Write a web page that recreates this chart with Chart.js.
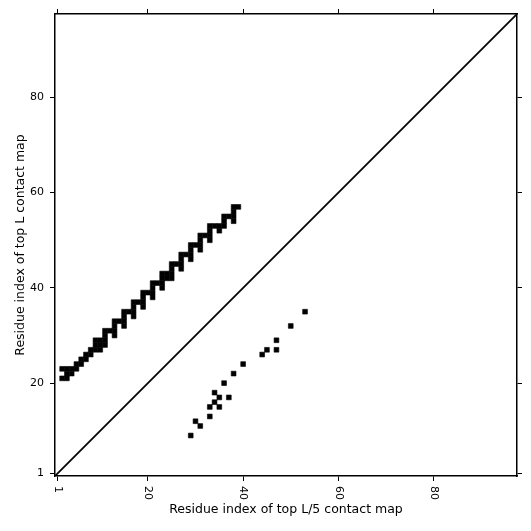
<!DOCTYPE html>
<html>
<head>
<meta charset="utf-8">
<script src="https://cdn.jsdelivr.net/npm/chart.js@4.4.0/dist/chart.umd.min.js"></script>
<style>
  html, body { margin: 0; padding: 0; background: #fff; }
  #wrap { width: 531px; height: 531px; }
</style>
</head>
<body>
<div id="wrap"><canvas id="contactMap" width="531" height="531"></canvas></div>
<script>
const seqLength = 97;
const tickValues = [1, 20, 40, 60, 80];
const xTitle = 'Residue index of top L/5 contact map';
const yTitle = 'Residue index of top L contact map';

// [i, j] residue pairs
const topLContacts = [
    [2, 21], [3, 21],
    [3, 22], [4, 22],
    [2, 23], [3, 23], [4, 23], [5, 23],
    [5, 24], [6, 24],
    [6, 25], [7, 25],
    [7, 26], [8, 26],
    [8, 27], [9, 27], [10, 27],
    [9, 28], [10, 28], [11, 28],
    [9, 29], [10, 29], [11, 29],
    [11, 30], [13, 30],
    [11, 31], [12, 31], [13, 31],
    [13, 32], [15, 32],
    [13, 33], [14, 33], [15, 33],
    [15, 34], [17, 34],
    [15, 35], [16, 35], [17, 35],
    [17, 36], [19, 36],
    [17, 37], [18, 37], [19, 37],
    [19, 38], [21, 38],
    [19, 39], [20, 39], [21, 39],
    [21, 40], [23, 40],
    [21, 41], [22, 41], [23, 41],
    [23, 42], [24, 42], [25, 42],
    [23, 43], [24, 43], [25, 43],
    [25, 44], [27, 44],
    [25, 45], [26, 45], [27, 45],
    [27, 46], [29, 46],
    [27, 47], [28, 47], [29, 47],
    [29, 48], [31, 48],
    [29, 49], [30, 49], [31, 49],
    [31, 50], [33, 50],
    [31, 51], [32, 51], [33, 51],
    [33, 52], [35, 52],
    [33, 53], [34, 53], [35, 53], [36, 53],
    [36, 54], [38, 54],
    [36, 55], [37, 55], [38, 55],
    [38, 56],
    [38, 57], [39, 57]
];
const topL5Contacts = [
    [29, 9], [31, 11], [30, 12], [33, 13], [33, 15], [35, 15], [34, 16],
    [35, 17], [37, 17], [34, 18], [36, 20], [38, 22], [40, 24], [44, 26],
    [45, 27], [47, 27], [47, 29], [50, 32], [53, 35]
];
const diagonal = [[0.5, 0.5], [seqLength + 0.5, seqLength + 0.5]];

const TICK_FONT = { family: '"DejaVu Sans", sans-serif', size: 11 };
const TITLE_FONT = { family: '"DejaVu Sans", sans-serif', size: 12.5 };
const toXY = (pairs) => pairs.map(([i, j]) => ({ x: i, y: j }));

// one cell of the map is a square as wide as one residue on the x scale
const cellRadius = function (ctx) {
    let s = ctx.chart.scales.x;
    return Math.abs(s.getPixelForValue(1) - s.getPixelForValue(0)) / Math.SQRT2;
};
const setTicks = function (scale) {
    scale.ticks = tickValues.map(v => ({ value: v }));
};
const frame = { display: true, color: '#000', width: 1.5 };
const tickMarks = { display: true, drawOnChartArea: false, drawTicks: true, tickLength: 5, color: '#000', lineWidth: 1 };

// x tick labels turned a quarter clockwise, like the original
const xLabels = {
    id: 'xLabels',
    afterDraw(chart) {
        const s = chart.scales.x;
        const c = chart.ctx;
        c.save();
        c.font = '11px "DejaVu Sans", sans-serif';
        c.fillStyle = '#000';
        c.textAlign = 'left';
        c.textBaseline = 'middle';
        tickValues.forEach(v => {
            c.save();
            c.translate(s.getPixelForValue(v), chart.chartArea.bottom + 10);
            c.rotate(Math.PI / 2);
            c.fillText(String(v), 0, 0);
            c.restore();
        });
        c.restore();
    }
};

const cellSet = (label, pairs) => ({
    label: label,
    data: toXY(pairs),
    pointStyle: 'rect',
    pointRadius: cellRadius,
    pointHoverRadius: cellRadius,
    backgroundColor: '#000',
    borderColor: '#000',
    borderWidth: 0.6
});

new Chart(document.getElementById('contactMap'), {
    type: 'scatter',
    data: {
        datasets: [
            {
                type: 'line',
                label: 'diagonal',
                data: toXY(diagonal),
                borderColor: '#000',
                borderWidth: 1.8,
                pointRadius: 0,
                fill: false
            },
            cellSet('top L', topLContacts),
            cellSet('top L/5', topL5Contacts)
        ]
    },
    options: {
        responsive: false,
        animation: false,
        layout: { padding: 0 },
        plugins: { legend: { display: false }, tooltip: { enabled: false } },
        scales: {
            x: {
                type: 'linear', position: 'bottom',
                min: 0.5, max: seqLength + 0.5,
                afterBuildTicks: setTicks,
                afterFit: (s) => { s.height = 55; },
                ticks: { display: false },
                grid: tickMarks, border: frame,
                title: { display: true, text: xTitle, color: '#000', font: TITLE_FONT, padding: { top: 0, bottom: 13.5 } }
            },
            y: {
                type: 'linear', position: 'left',
                min: 0.5, max: seqLength + 0.5,
                afterBuildTicks: setTicks,
                afterFit: (s) => { s.width = 55; },
                ticks: { color: '#000', font: TICK_FONT, padding: 6, callback: (v) => String(v) },
                grid: tickMarks, border: frame,
                title: { display: true, text: yTitle, color: '#000', font: TITLE_FONT, padding: { top: 13.5, bottom: 0 } }
            },
            x2: {
                type: 'linear', position: 'top',
                min: 0.5, max: seqLength + 0.5,
                afterBuildTicks: setTicks,
                afterFit: (s) => { s.height = 14; },
                ticks: { display: false },
                grid: tickMarks, border: frame
            },
            y2: {
                type: 'linear', position: 'right',
                min: 0.5, max: seqLength + 0.5,
                afterBuildTicks: setTicks,
                afterFit: (s) => { s.width = 14; },
                ticks: { display: false },
                grid: tickMarks, border: frame
            }
        }
    },
    plugins: [xLabels]
});
</script>
</body>
</html>
